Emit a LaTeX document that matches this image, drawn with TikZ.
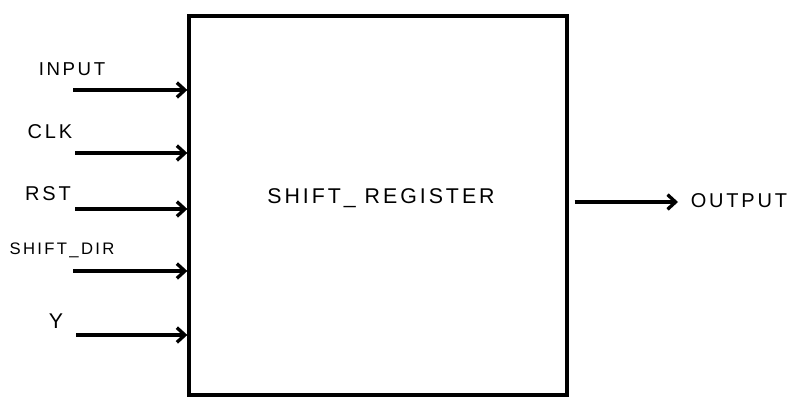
\documentclass[tikz,border=0pt]{standalone}
\usepackage{fontspec}
\setmainfont{Liberation Sans}
\newfontfamily\hand{Liberation Sans}[LetterSpace=14]
\usetikzlibrary{arrows.meta}
\tikzset{every path/.style={black,line width=2.5pt}, sig/.style={-{Straight Barb[length=6pt,width=11pt]}},
 lbl/.style={font=\hand\fontsize{14}{14}\selectfont, inner sep=0pt}}

\begin{document}
\begin{tikzpicture}[x=0.75pt,y=-0.75pt]
   \useasboundingbox (0,0) rectangle (801,406);
   \node[draw, minimum width=283.5pt, minimum height=284.25pt, inner sep=0pt] (reg) at (378,205.5) {};
   \node[lbl, font=\hand\fontsize{16}{16}\selectfont] (regname) at (381,198) {SHIFT\_ REGISTER};
   % inputs
   \coordinate (i1) at (73,90);
   \coordinate (i2) at (75,153);
   \coordinate (i3) at (75,209);
   \coordinate (i4) at (73,271);
   \coordinate (i5) at (76,335);
   \node[lbl] (input) at (72,69) {INPUT};
   \node[lbl, font=\hand\fontsize{15}{15}\selectfont] (clk) at (50,132) {CLK};
   \node[lbl, font=\hand\fontsize{15}{15}\selectfont] (rst) at (48,194) {RST};
   \node[lbl, font=\hand\fontsize{12.5}{12.5}\selectfont] (dir) at (62,250) {SHIFT\_DIR};
   \node[lbl, font=\hand\fontsize{16}{16}\selectfont] (y) at (56,321) {Y};
   \draw[sig] (i1) -- (i1 -| reg.west);
   \draw[sig] (i2) -- (i2 -| reg.west);
   \draw[sig] (i3) -- (i3 -| reg.west);
   \draw[sig] (i4) -- (i4 -| reg.west);
   \draw[sig] (i5) -- (i5 -| reg.west);
   % output
   \coordinate (o1) at (678,202);
   \node[lbl, font=\hand\fontsize{15}{15}\selectfont] (output) at (739,201) {OUTPUT};
   \draw[sig] (reg.east |- o1) ++(6,0) -- (o1);
\end{tikzpicture}
\end{document}
